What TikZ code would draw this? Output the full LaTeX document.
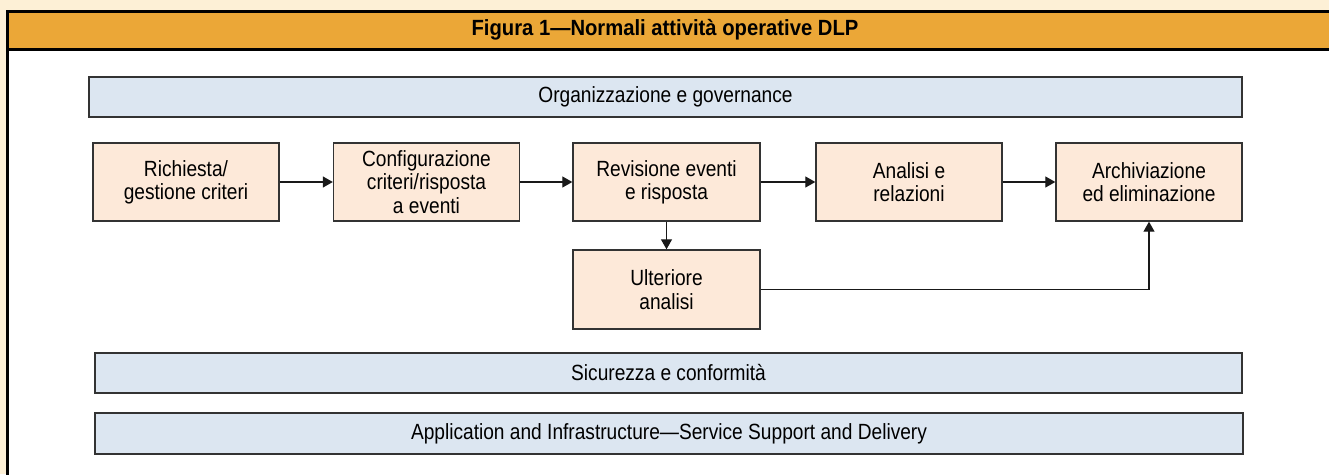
\documentclass[tikz,border=0pt]{standalone}
\usepackage{fontspec}
\setmainfont{Liberation Sans}[FakeStretch=0.87]
\newfontfamily\headfont{Liberation Sans}[FakeStretch=0.92]
\usetikzlibrary{arrows.meta}
\definecolor{cream}{HTML}{FDF0D6}
\definecolor{headorange}{HTML}{EBA737}
\definecolor{peach}{HTML}{FDE9D9}
\definecolor{paleblue}{HTML}{DCE6F1}
\definecolor{edge}{HTML}{333333}
\begin{document}
\begin{tikzpicture}[x=1pt,y=-1pt,
  every node/.style={font=\fontsize{22}{23.3}\selectfont, inner sep=0pt},
  stepbox/.style={draw=edge, line width=1.4pt, fill=peach, align=center,
    minimum width=186pt, minimum height=78pt},
  band/.style={draw=edge, line width=1.6pt, fill=paleblue,
    minimum height=40pt},
  arr/.style={draw=black!90, line width=1.2pt, -{Triangle[length=10pt,width=11pt]}}]
\useasboundingbox (0,0) rectangle (1329,474);
% page background and figure frame
\fill[cream] (0,0) rectangle (1329,474);
\fill[white] (7,11) rectangle (1340,490);
\fill[headorange] (7,11) rectangle (1340,49.5);
\draw[line width=2.5pt] (7,49.5) -- (1340,49.5);
\draw[line width=3pt] (1340,11) -- (7,11) -- (7,490);
\node[font=\headfont\bfseries\fontsize{22}{24}\selectfont] (title) at (665,30)
  {Figura 1—Normali attività operative DLP};

% horizontal layers
\node[band, minimum width=1153pt] (gov) at (665.5,97) {Organizzazione e governance};
\node[band, minimum width=1147pt] (sec) at (668.5,373) {Sicurezza e conformità};
\node[band, minimum width=1148pt, minimum height=41pt] (app) at (669,433.5)
  {Application and Infrastructure—Service Support and Delivery};

% process steps
\node[stepbox] (req) at (186,182) {Richiesta/\\gestione criteri};
\node[stepbox] (cfg) at (426.5,182) {Configurazione\\criteri/risposta\\a eventi};
\node[stepbox, minimum width=187pt] (rev) at (666.5,182) {Revisione eventi\\e risposta};
\node[stepbox] (ana) at (909,182) {Analisi e\\relazioni};
\node[stepbox] (arc) at (1149,182) {Archiviazione\\ed eliminazione};
\node[stepbox, minimum width=187pt, minimum height=79pt] (ult) at (666.5,289.5)
  {Ulteriore\\analisi};

% flow
\draw[arr] (req) -- (cfg);
\draw[arr] (cfg) -- (rev);
\draw[arr] (rev) -- (ana);
\draw[arr] (ana) -- (arc);
\draw[arr] (rev) -- (ult);
\draw[arr] (ult.east) -| (arc.south);
\end{tikzpicture}
\end{document}
